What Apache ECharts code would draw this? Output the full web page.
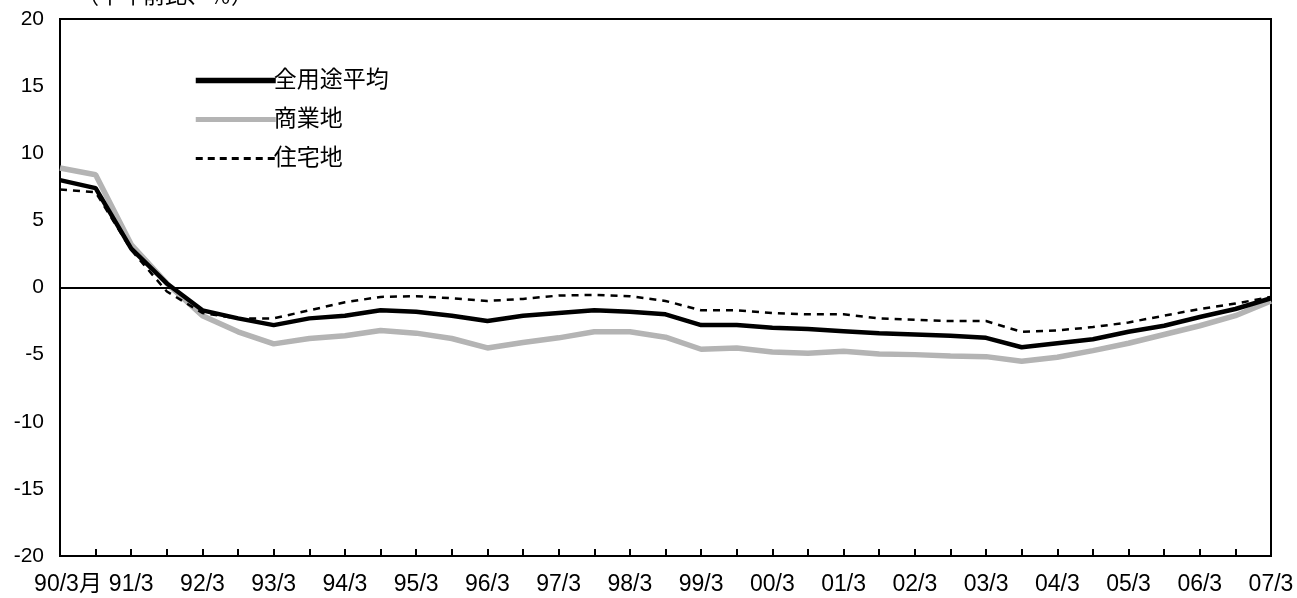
<!DOCTYPE html>
<html><head><meta charset="utf-8">
<script src="https://cdn.jsdelivr.net/npm/echarts@6/dist/echarts.min.js"></script>
<style>html,body{margin:0;padding:0;background:#fff}#c{width:1297px;height:598px}</style>
</head><body><div id="c"></div>
<script>
var categories = ['90/3月','90/9','91/3','91/9','92/3','92/9','93/3','93/9','94/3','94/9','95/3','95/9','96/3','96/9','97/3','97/9','98/3','98/9','99/3','99/9','00/3','00/9','01/3','01/9','02/3','02/9','03/3','03/9','04/3','04/9','05/3','05/9','06/3','06/9','07/3'];
var allUse = [8.0,7.4,2.9,0.3,-1.7,-2.3,-2.8,-2.3,-2.1,-1.7,-1.8,-2.1,-2.5,-2.1,-1.9,-1.7,-1.8,-2.0,-2.8,-2.8,-3.0,-3.1,-3.25,-3.4,-3.5,-3.6,-3.75,-4.45,-4.15,-3.85,-3.3,-2.85,-2.2,-1.6,-0.8];
var commercial = [8.9,8.4,3.2,0.3,-2.1,-3.3,-4.2,-3.8,-3.6,-3.2,-3.4,-3.8,-4.5,-4.1,-3.75,-3.3,-3.3,-3.7,-4.6,-4.5,-4.8,-4.9,-4.75,-4.95,-5.0,-5.1,-5.15,-5.5,-5.2,-4.7,-4.15,-3.5,-2.85,-2.1,-1.0];
var residential = [7.3,7.1,2.8,-0.3,-1.9,-2.3,-2.3,-1.7,-1.1,-0.7,-0.65,-0.8,-1.0,-0.85,-0.6,-0.55,-0.65,-1.0,-1.7,-1.7,-1.9,-2.0,-2.0,-2.3,-2.4,-2.5,-2.5,-3.3,-3.2,-2.95,-2.6,-2.1,-1.6,-1.2,-0.7];
var seriesNames = ['全用途平均','商業地','住宅地'];

var FONT = "'Liberation Sans', Arial, 'Noto Sans CJK JP', sans-serif";
var chart = echarts.init(document.getElementById('c'), null, {renderer:'canvas'});
chart.setOption({
  animation:false,
  backgroundColor:'#fff',
  textStyle:{fontFamily:FONT, color:'#000'},
  title:{text:'（半年前比、％）', left:72, top:-19, textStyle:{fontSize:22, fontWeight:'normal', color:'#000', fontFamily:FONT}},
  grid:{left:60, right:26, top:19, bottom:42, show:true, borderColor:'#000', borderWidth:2, backgroundColor:'transparent'},
  legend:{
    orient:'vertical', left:188, top:64, itemWidth:80, itemHeight:14, itemGap:16,
    itemStyle:{opacity:0},
    textStyle:{fontSize:23, color:'#000', fontFamily:FONT, padding:[0,0,0,-7]},
    data:[
      {name:seriesNames[0], lineStyle:{width:5.5}},
      {name:seriesNames[1], lineStyle:{width:5}},
      {name:seriesNames[2], lineStyle:{width:3, type:[7,5]}}
    ]
  },
  xAxis:{
    type:'category', data:categories, boundaryGap:false,
    axisLine:{onZero:false, lineStyle:{color:'#000', width:2}},
    axisTick:{inside:true, length:7, interval:0, lineStyle:{color:'#000', width:2}},
    axisLabel:{interval:1, margin:17, fontSize:23, color:'#000', fontFamily:FONT,
      formatter:function(v,i){ return i===0 ? '{f|'+v+'}' : v; },
      rich:{f:{fontSize:23, color:'#000', fontFamily:FONT, padding:[0,0,0,16]}}},
    splitLine:{show:false}
  },
  yAxis:{
    type:'value', min:-20, max:20, interval:5,
    axisLine:{show:true, lineStyle:{color:'#000', width:2}},
    axisTick:{inside:true, length:7, lineStyle:{color:'#000', width:2}},
    axisLabel:{fontSize:21, color:'#000', margin:16, fontFamily:FONT},
    splitLine:{show:false}
  },
  series:[
    {name:seriesNames[0], type:'line', data:allUse, symbol:'none', z:4,
     lineStyle:{color:'#000', width:4.5}, itemStyle:{color:'#000'},
     markLine:{silent:true, symbol:'none', label:{show:false}, lineStyle:{color:'#000', width:2, type:'solid'}, data:[{yAxis:0}]}},
    {name:seriesNames[1], type:'line', data:commercial, symbol:'none', z:2,
     lineStyle:{color:'#b4b4b4', width:5.5}, itemStyle:{color:'#b4b4b4'}},
    {name:seriesNames[2], type:'line', data:residential, symbol:'none', z:3,
     lineStyle:{color:'#000', width:2.5, type:[7,6]}, itemStyle:{color:'#000'}}
  ]
});
</script></body></html>
